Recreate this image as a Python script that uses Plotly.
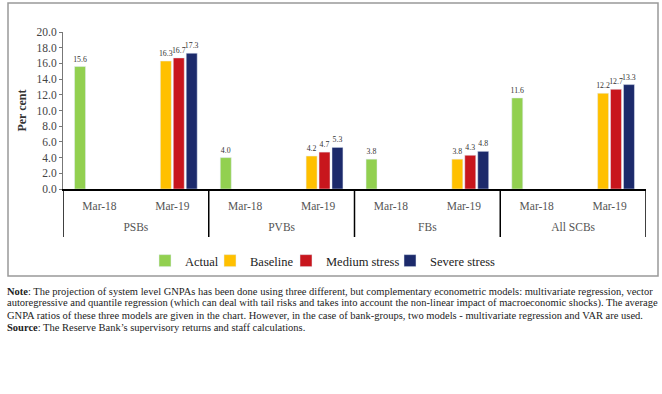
import plotly.graph_objects as go

groups = ["PSBs", "PVBs", "FBs", "All SCBs"]
periods = ["Mar-18", "Mar-19"] * 4
keys = [g + " " + p for g in groups for p in ["Mar-18", "Mar-19"]]

actual = [15.6, None, 4.0, None, 3.8, None, 11.6, None]
baseline = [None, 16.3, None, 4.2, None, 3.8, None, 12.2]
medium = [None, 16.7, None, 4.7, None, 4.3, None, 12.7]
severe = [None, 17.3, None, 5.3, None, 4.8, None, 13.3]

series_names = ["Actual", "Baseline", "Medium stress", "Severe stress"]
series_values = [actual, baseline, medium, severe]
colors = ["#92D050", "#FFC000", "#C8161D", "#1C2A6B"]

y_ticks = [0, 2, 4, 6, 8, 10, 12, 14, 16, 18, 20]

note_lines = [
    "<b>Note</b>: The projection of system level GNPAs has been done using three different, but complementary econometric models: multivariate regression, vector",
    "autoregressive and quantile regression (which can deal with tail risks and takes into account the non-linear impact of macroeconomic shocks). The average",
    "GNPA ratios of these three models are given in the chart. However, in the case of bank-groups, two models - multivariate regression and VAR are used.",
    "<b>Source</b>: The Reserve Bank\u2019s supervisory returns and staff calculations.",
]

FONT = "Liberation Serif"
PL, PR, PT, PB = 63, 646, 32, 189
PW, PH = PR - PL, PB - PT


def px_x(x):
    return (x - PL) / PW


def px_y(y):
    return (PB - y) / PH


legend_ids = ["legend", "legend2", "legend3", "legend4"]
legend_symbol_px = [165, 230, 306, 410]

fig = go.Figure()
for name, vals, col, lid in zip(series_names, series_values, colors, legend_ids):
    fig.add_trace(go.Bar(
        x=keys, y=vals, name=name, marker_color=col, legend=lid,
        texttemplate="%{y:.1f}", textposition="outside", cliponaxis=False,
        constraintext="none",
        textfont=dict(size=7.8, color="#333333", family=FONT),
    ))

n = len(keys)
group_centers = [0.5, 2.5, 4.5, 6.5]
fig.add_trace(go.Scatter(x=group_centers, y=[None] * 4, xaxis="x2", yaxis="y",
                         showlegend=False, hoverinfo="skip", mode="markers"))

legend_common = dict(orientation="h", yanchor="middle", xanchor="left",
                     font=dict(size=12.5, color="#222222", family=FONT),
                     itemwidth=30, bgcolor="rgba(0,0,0,0)")
legends = {}
for lid, sx in zip(legend_ids, legend_symbol_px):
    legends[lid] = dict(legend_common, x=px_x(sx - 20), y=px_y(261))

fig.update_layout(
    width=662, height=394,
    margin=dict(l=PL, r=662 - PR, t=PT, b=394 - PB, autoexpand=False),
    barmode="group", bargap=0.29, bargroupgap=0.15,
    plot_bgcolor="white", paper_bgcolor="white",
    font=dict(family=FONT, color="#444444"),
    showlegend=True,
    yaxis=dict(range=[0, 20], tickvals=y_ticks, tickformat=".1f", automargin=False,
               showgrid=False, showline=True, linecolor="#777777", linewidth=1,
               ticks="outside", ticklen=3, tickcolor="#777777",
               tickfont=dict(size=11.5, color="#444444"),
               title=dict(text="<b>Per cent</b>", font=dict(size=12, color="#333333"), standoff=7),
               zeroline=False),
    xaxis=dict(type="category", categoryorder="array", categoryarray=keys,
               tickvals=keys, ticktext=periods, range=[-0.5, n - 0.5],
               automargin=False, showline=True, linecolor="black", linewidth=1.5,
               ticks="", ticklabelstandoff=5,
               tickfont=dict(size=11.5, color="#555555"), showgrid=False),
    xaxis2=dict(type="linear", overlaying="x", anchor="y", side="bottom", range=[-0.5, n - 0.5],
                tickvals=group_centers, ticktext=groups, automargin=False,
                showline=False, ticks="", showgrid=False, zeroline=False,
                ticklabelstandoff=29, tickfont=dict(size=11.5, color="#555555")),
    **legends,
)

shapes = [dict(type="rect", xref="paper", yref="paper",
               x0=px_x(8), x1=px_x(658), y0=px_y(276), y1=px_y(3),
               line=dict(color="#999999", width=1.5), fillcolor="rgba(0,0,0,0)", layer="below")]
for b in [-0.5, 1.5, 3.5, 5.5, 7.5]:
    shapes.append(dict(type="line", xref="x", yref="paper", x0=b, x1=b,
                       y0=0, y1=px_y(237), line=dict(color="black", width=1.5)))
fig.update_layout(shapes=shapes)

for i, line in enumerate(note_lines):
    fig.add_annotation(text=line, xref="paper", yref="paper",
                       x=px_x(5), xanchor="left",
                       y=px_y(291 + i * 12.3), yanchor="middle",
                       showarrow=False, font=dict(size=10.5, color="#222222", family=FONT))

fig.write_html("out.html", post_script="document.body.style.margin='0px';",
               config={"displayModeBar": False})
